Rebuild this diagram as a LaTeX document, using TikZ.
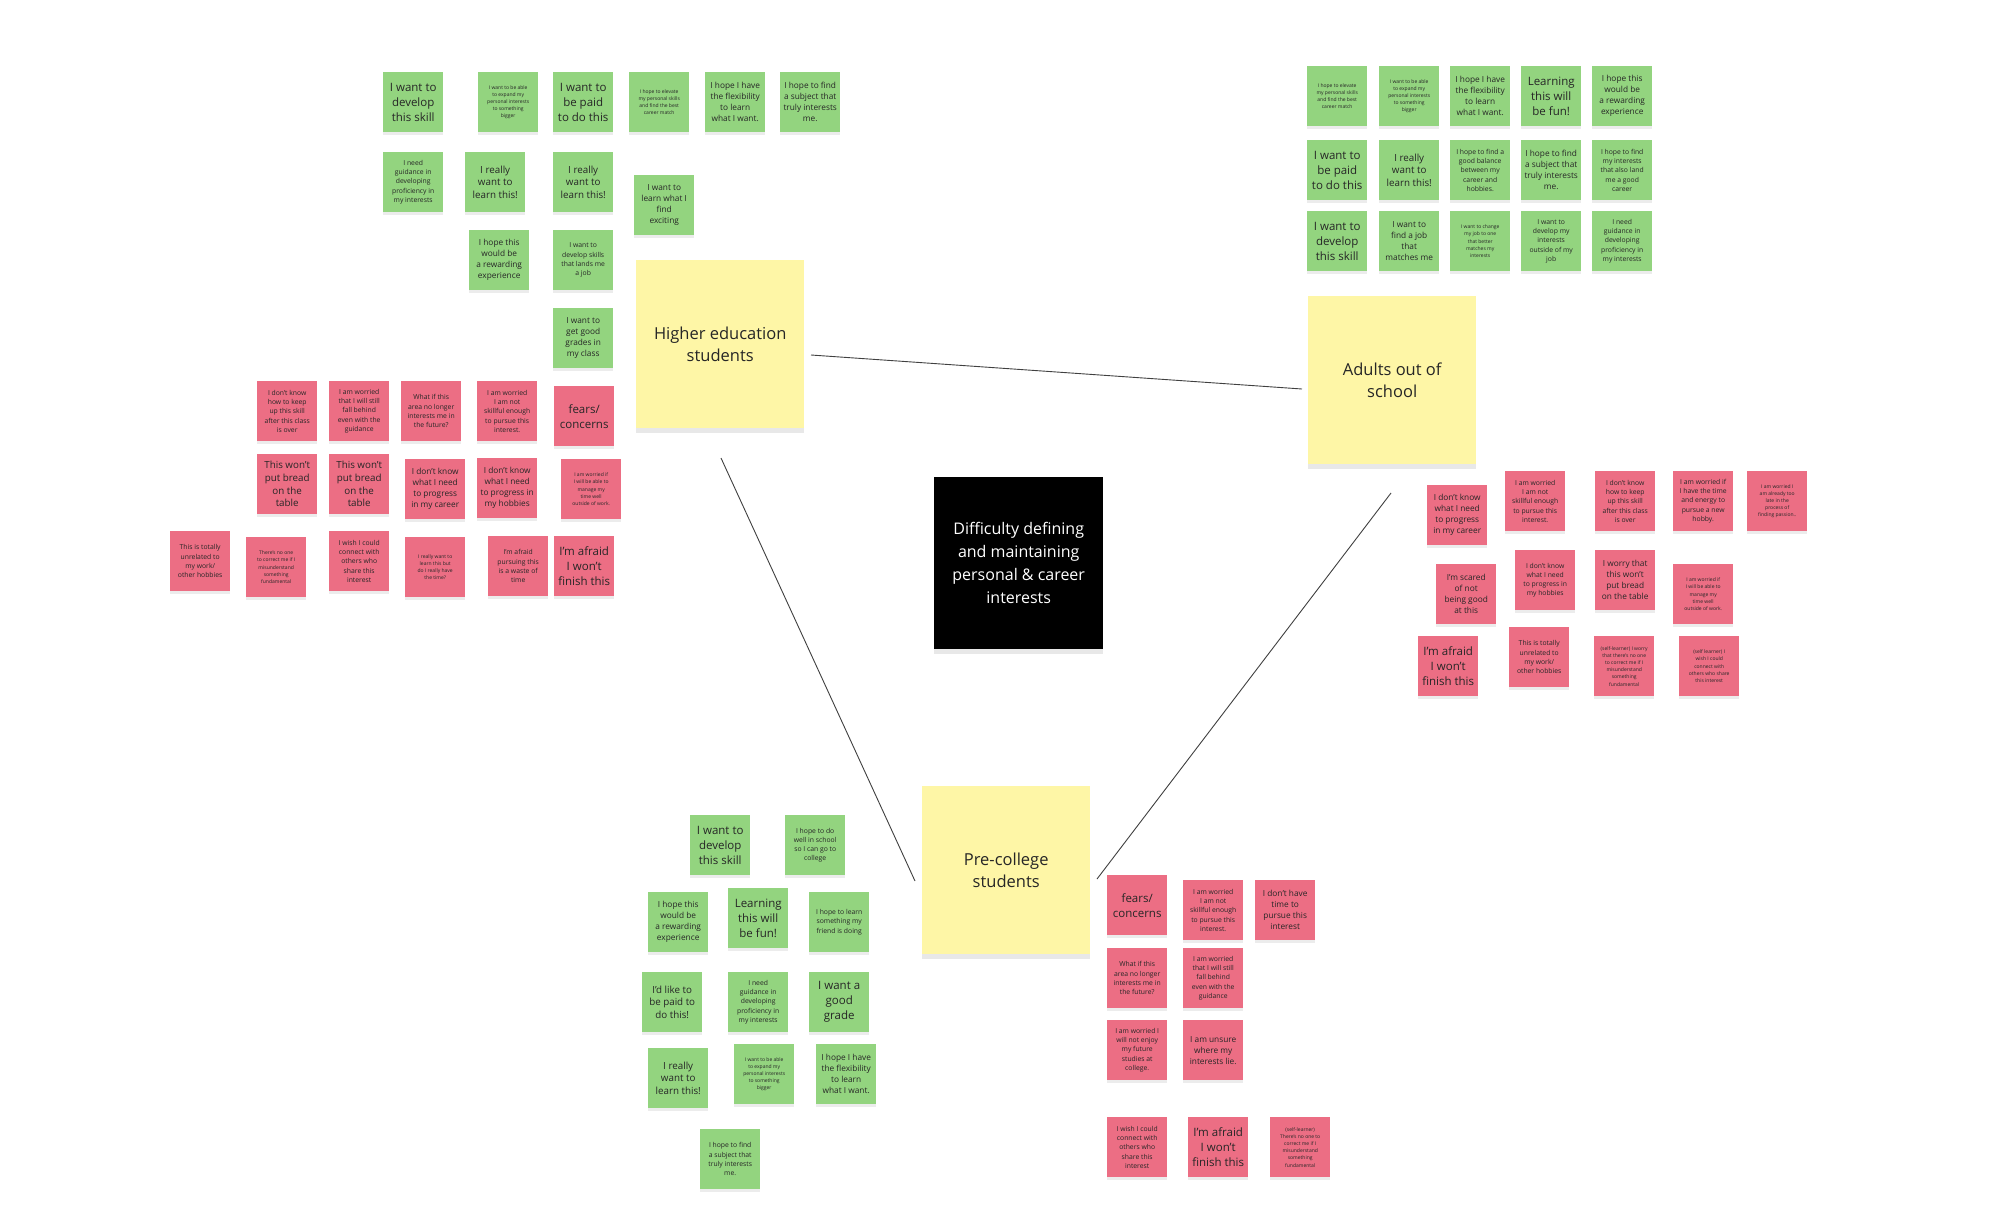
\documentclass[tikz,border=0pt]{standalone}
\usepackage{fontspec}
\setmainfont{Open Sans}
\usetikzlibrary{shadows}
\definecolor{gnote}{HTML}{93D47F}
\definecolor{pnote}{HTML}{EC6E84}
\definecolor{ynote}{HTML}{FEF6A6}
\tikzset{
  note/.style={anchor=north west,minimum width=60pt,minimum height=60pt,inner sep=1pt,align=center,text=black!85,
    drop shadow={shadow xshift=0pt,shadow yshift=-3pt,opacity=0.15}},
  gn/.style={note,fill=gnote},
  pn/.style={note,fill=pnote},
  big/.style={font=\fontsize{11.5}{15}\selectfont},
  mbg/.style={font=\fontsize{9.8}{12.6}\selectfont},
  med/.style={font=\fontsize{8.3}{11}\selectfont},
  sml/.style={font=\fontsize{6.8}{9.3}\selectfont},
  tny/.style={font=\fontsize{5}{7.2}\selectfont},
  ybox/.style={anchor=north west,fill=ynote,minimum width=168pt,minimum height=168pt,align=center,font=\fontsize{16.5}{22.5}\selectfont,text=black!85,
    drop shadow={shadow xshift=0pt,shadow yshift=-5pt,opacity=0.18}},
  link/.style={draw=black!75,line width=0.9pt}
}
\begin{document}
\begin{tikzpicture}[x=1pt,y=-1pt]
\useasboundingbox[fill=white] (0,0) rectangle (2000,1224);
% central
\node[anchor=north west,fill=black,minimum width=169pt,minimum height=172pt,align=center,text=white,font=\fontsize{16}{23}\selectfont,drop shadow={shadow xshift=0pt,shadow yshift=-5pt,opacity=0.18}] (c) at (934,477) {Difficulty defining\\and maintaining\\personal \& career\\interests};
\node[ybox] (he) at (636,260) {Higher education\\students};
\node[ybox] (ad) at (1308,296) {Adults out of\\school};
\node[ybox] (pc) at (922,786) {Pre-college\\students};
\coordinate (he1) at (811,355); \coordinate (ad1) at (1302,389);
\coordinate (he2) at (721,458); \coordinate (pc1) at (915,881);
\coordinate (ad2) at (1391,493); \coordinate (pc2) at (1097,879);
\draw[link] (he1) -- (ad1);
\draw[link] (he2) -- (pc1);
\draw[link] (ad2) -- (pc2);
% Higher ed greens
\node[gn,big] (h1) at (383,72) {I want to\\develop\\this skill};
\node[gn,tny] (h2) at (478,72) {I want to be able\\to expand my\\personal interests\\to something\\bigger};
\node[gn,big] (h3) at (553,72) {I want to\\be paid\\to do this};
\node[gn,tny] (h4) at (629,72) {I hope to elevate\\my personal skills\\and find the best\\career match};
\node[gn,med] (h5) at (705,72) {I hope I have\\the flexibility\\to learn\\what I want.};
\node[gn,med] (h6) at (780,72) {I hope to find\\a subject that\\truly interests\\me.};
\node[gn,sml] (h7) at (383,152) {I need\\guidance in\\developing\\proficiency in\\my interests};
\node[gn,mbg] (h8) at (465,152) {I really\\want to\\learn this!};
\node[gn,mbg] (h9) at (553,152) {I really\\want to\\learn this!};
\node[gn,med] (h10) at (634,175) {I want to\\learn what I\\find\\exciting};
\node[gn,med] (h11) at (469,230) {I hope this\\would be\\a rewarding\\experience};
\node[gn,sml] (h12) at (553,230) {I want to\\develop skills\\that lands me\\a job};
\node[gn,med] (h13) at (553,308) {I want to\\get good\\grades in\\my class};
% Higher ed pinks
\node[pn,sml] (hp1) at (257,381) {I don't know\\how to keep\\up this skill\\after this class\\is over};
\node[pn,sml] (hp2) at (329,381) {I am worried\\that I will still\\fall behind\\even with the\\guidance};
\node[pn,sml] (hp3) at (401,381) {What if this\\area no longer\\interests me in\\the future?};
\node[pn,sml] (hp4) at (477,381) {I am worried\\I am not\\skillful enough\\to pursue this\\interest.};
\node[pn,big] (hp5) at (554,386) {fears/\\concerns};
\node[pn,mbg] (hp6) at (257,454) {This won't\\put bread\\on the\\table};
\node[pn,mbg] (hp7) at (329,454) {This won't\\put bread\\on the\\table};
\node[pn,med] (hp8) at (405,459) {I don't know\\what I need\\to progress\\in my career};
\node[pn,med] (hp9) at (477,458) {I don't know\\what I need\\to progress in\\my hobbies};
\node[pn,tny] (hp10) at (561,459) {I am worried if\\I will be able to\\manage my\\time well\\outside of work.};
\node[pn,sml] (hp11) at (170,531) {This is totally\\unrelated to\\my work/\\other hobbies};
\node[pn,tny] (hp12) at (246,537) {There's no one\\to correct me if I\\misunderstand\\something\\fundamental};
\node[pn,sml] (hp13) at (329,531) {I wish I could\\connect with\\others who\\share this\\interest};
\node[pn,tny] (hp14) at (405,537) {I really want to\\learn this but\\do I really have\\the time?};
\node[pn,sml] (hp15) at (488,536) {I'm afraid\\pursuing this\\is a waste of\\time};
\node[pn,big] (hp16) at (554,536) {I'm afraid\\I won't\\finish this};
% Adults greens
\node[gn,tny] (a1) at (1307,66) {I hope to elevate\\my personal skills\\and find the best\\career match};
\node[gn,tny] (a2) at (1379,66) {I want to be able\\to expand my\\personal interests\\to something\\bigger};
\node[gn,med] (a3) at (1450,66) {I hope I have\\the flexibility\\to learn\\what I want.};
\node[gn,big] (a4) at (1521,66) {Learning\\this will\\be fun!};
\node[gn,med] (a5) at (1592,66) {I hope this\\would be\\a rewarding\\experience};
\node[gn,big] (a6) at (1307,140) {I want to\\be paid\\to do this};
\node[gn,mbg] (a7) at (1379,140) {I really\\want to\\learn this!};
\node[gn,sml] (a8) at (1450,140) {I hope to find a\\good balance\\between my\\career and\\hobbies.};
\node[gn,med] (a9) at (1521,140) {I hope to find\\a subject that\\truly interests\\me.};
\node[gn,sml] (a10) at (1592,140) {I hope to find\\my interests\\that also land\\me a good\\career};
\node[gn,big] (a11) at (1307,211) {I want to\\develop\\this skill};
\node[gn,med] (a12) at (1379,211) {I want to\\find a job\\that\\matches me};
\node[gn,tny] (a13) at (1450,211) {I want to change\\my job to one\\that better\\matches my\\interests};
\node[gn,sml] (a14) at (1521,211) {I want to\\develop my\\interests\\outside of my\\job};
\node[gn,sml] (a15) at (1592,211) {I need\\guidance in\\developing\\proficiency in\\my interests};
% Adults pinks
\node[pn,med] (ap1) at (1427,485) {I don't know\\what I need\\to progress\\in my career};
\node[pn,sml] (ap2) at (1505,471) {I am worried\\I am not\\skillful enough\\to pursue this\\interest.};
\node[pn,sml] (ap3) at (1595,471) {I don't know\\how to keep\\up this skill\\after this class\\is over};
\node[pn,sml] (ap4) at (1673,471) {I am worried if\\I have the time\\and energy to\\pursue a new\\hobby.};
\node[pn,tny] (ap5) at (1747,471) {I am worried I\\am already too\\late in the\\process of\\finding passion..};
\node[pn,med] (ap6) at (1436,564) {I'm scared\\of not\\being good\\at this};
\node[pn,sml] (ap7) at (1515,550) {I don't know\\what I need\\to progress in\\my hobbies};
\node[pn,med] (ap8) at (1595,550) {I worry that\\this won't\\put bread\\on the table};
\node[pn,tny] (ap9) at (1673,564) {I am worried if\\I will be able to\\manage my\\time well\\outside of work.};
\node[pn,big] (ap10) at (1418,636) {I'm afraid\\I won't\\finish this};
\node[pn,sml] (ap11) at (1509,627) {This is totally\\unrelated to\\my work/\\other hobbies};
\node[pn,tny] (ap12) at (1594,636) {(self-learner) I worry\\that there's no one\\to correct me if I\\misunderstand\\something\\fundamental};
\node[pn,tny] (ap13) at (1679,636) {(self learner) I\\wish I could\\connect with\\others who share\\this interest};
% Pre-college greens
\node[gn,big] (p1) at (690,815) {I want to\\develop\\this skill};
\node[gn,sml] (p2) at (785,815) {I hope to do\\well in school\\so I can go to\\college};
\node[gn,med] (p3) at (648,892) {I hope this\\would be\\a rewarding\\experience};
\node[gn,big] (p4) at (728,888) {Learning\\this will\\be fun!};
\node[gn,sml] (p5) at (809,892) {I hope to learn\\something my\\friend is doing};
\node[gn,mbg] (p6) at (642,972) {I'd like to\\be paid to\\do this!};
\node[gn,sml] (p7) at (728,972) {I need\\guidance in\\developing\\proficiency in\\my interests};
\node[gn,big] (p8) at (809,972) {I want a\\good\\grade};
\node[gn,mbg] (p9) at (648,1048) {I really\\want to\\learn this!};
\node[gn,tny] (p10) at (734,1044) {I want to be able\\to expand my\\personal interests\\to something\\bigger};
\node[gn,med] (p11) at (816,1044) {I hope I have\\the flexibility\\to learn\\what I want.};
\node[gn,sml] (p12) at (700,1129) {I hope to find\\a subject that\\truly interests\\me.};
% Pre-college pinks
\node[pn,big] (pp1) at (1107,875) {fears/\\concerns};
\node[pn,sml] (pp2) at (1183,880) {I am worried\\I am not\\skillful enough\\to pursue this\\interest.};
\node[pn,med] (pp3) at (1255,880) {I don't have\\time to\\pursue this\\interest};
\node[pn,sml] (pp4) at (1107,948) {What if this\\area no longer\\interests me in\\the future?};
\node[pn,sml] (pp5) at (1183,948) {I am worried\\that I will still\\fall behind\\even with the\\guidance};
\node[pn,sml] (pp6) at (1107,1020) {I am worried I\\will not enjoy\\my future\\studies at\\college.};
\node[pn,med] (pp7) at (1183,1020) {I am unsure\\where my\\interests lie.};
\node[pn,sml] (pp8) at (1107,1117) {I wish I could\\connect with\\others who\\share this\\interest};
\node[pn,big] (pp9) at (1188,1117) {I'm afraid\\I won't\\finish this};
\node[pn,tny] (pp10) at (1270,1117) {(self-learner)\\There's no one to\\correct me if I\\misunderstand\\something\\fundamental};
\end{tikzpicture}
\end{document}
